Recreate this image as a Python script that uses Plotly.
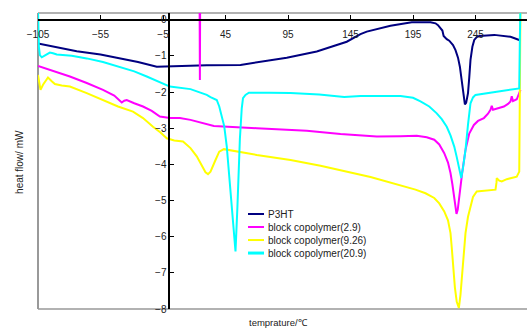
import plotly.graph_objects as go

# ---------------- data ----------------
p3ht_x = [-105, -90, -74, -55, -39.5, -25, -10, 0, 10, 30, 57, 78, 94, 118, 142, 153, 158, 177, 194, 209,
          213, 215, 217, 218.5, 219.5, 222, 224, 227, 229, 231, 232.5, 234, 235.5, 236.5, 237.5, 239, 240,
          241, 242.5, 244, 246, 248, 260, 273, 280]
p3ht_y = [-0.66, -0.76, -0.87, -0.96, -1.07, -1.17, -1.30, -1.29, -1.27, -1.26, -1.25, -1.14, -1.05, -0.88,
          -0.61, -0.40, -0.33, -0.17, -0.07, -0.07, -0.10, -0.15, -0.22, -0.30, -0.45, -0.54, -0.58, -0.70,
          -0.84, -1.05, -1.30, -1.70, -2.10, -2.34, -2.30, -2.03, -1.60, -1.11, -0.75, -0.56, -0.48, -0.45,
          -0.42, -0.47, -0.56]

bc29_x = [-105, -92, -79.5, -66, -53, -44, -38, -36, -34, -28, -21, -14, -7.5, 0.5, 8.5, 17, 35.7, 70, 110,
          137, 153, 166, 185, 198, 206, 212, 216, 220, 223, 225, 226.5, 227.7, 229, 229.8, 230.8, 231.7, 233,
          234.3, 237, 240, 243.7, 247, 251.7, 255, 257, 258, 259, 263, 267.7, 271, 273, 274, 275, 278, 281,
          None, 24.3, 24.5, 24.7]
bc29_y = [-1.28, -1.42, -1.57, -1.75, -1.94, -2.10, -2.29, -2.24, -2.22, -2.31, -2.40, -2.52, -2.68, -2.72,
          -2.72, -2.77, -2.94, -3.00, -3.07, -3.16, -3.21, -3.23, -3.22, -3.21, -3.25, -3.32, -3.45, -3.69,
          -3.95, -4.24, -4.55, -4.89, -5.20, -5.37, -5.25, -4.98, -4.60, -4.24, -3.60, -3.15, -2.91, -2.80,
          -2.72, -2.60, -2.49, -2.38, -2.49, -2.44, -2.40, -2.33, -2.26, -2.12, -2.25, -2.20, -1.94,
          None, 0.3, -1.67, 0.3]

bc926_x = [-105, -104, -103, -101, -97, -94, -91.5, -86, -79.5, -66, -53, -41, -29, -21, -13, -7, -2, 4, 11,
           17, 22, 26, 29, 31, 33, 37, 40, 43.7, 54, 70, 97, 121, 161, 185, 197, 205, 212, 216, 220, 223,
           225, 226, 227, 228.5, 230, 231.7, 233, 234.3, 235.5, 237, 239, 241, 243, 246, 261, 261.8, 262,
           264, 266, 270, 278, 280, 280.5, 281]
bc926_y = [-1.53, -1.75, -1.94, -1.80, -1.60, -1.70, -1.78, -1.82, -1.85, -2.03, -2.22, -2.40, -2.54, -2.72,
           -2.96, -3.12, -3.28, -3.34, -3.37, -3.55, -3.78, -4.05, -4.22, -4.27, -4.20, -3.88, -3.65, -3.58,
           -3.65, -3.74, -3.88, -4.04, -4.35, -4.57, -4.70, -4.80, -4.93, -5.08, -5.30, -5.55, -5.90, -6.30,
           -6.82, -7.40, -7.80, -7.97, -7.60, -7.00, -6.40, -5.90, -5.45, -5.17, -4.90, -4.75, -4.70, -4.50,
           -4.38, -4.45, -4.47, -4.41, -4.34, -4.20, -2.0, 0.5]

bc209_x = [-105, -104.8, -104.3, -103.5, -102, -99, -95.5, -93, -90, -78, -66, -53, -39.5, -28, -18, -8, 0.5,
           17, 30, 33, 38, 40, 42, 44, 46, 48, 50, 51.5, 53, 54.5, 55.5, 56.5, 58, 59, 61, 63.7, 80, 97, 120,
           140, 153, 170, 185, 195, 201, 208, 214, 218, 222, 225, 228, 230, 232, 233.6, 235, 237, 239, 241,
           243, 245, 262, 280, 280.5, 281]
bc209_y = [0.3, -0.3, -0.75, -0.98, -1.04, -0.98, -0.91, -0.93, -0.96, -1.00, -1.07, -1.17, -1.30, -1.43,
           -1.57, -1.72, -1.85, -1.92, -2.08, -2.14, -2.22, -2.40, -2.68, -2.95, -3.50, -4.30, -5.10, -5.75,
           -6.41, -5.20, -4.20, -3.30, -2.45, -2.17, -2.08, -2.02, -2.02, -2.03, -2.07, -2.14, -2.11, -2.10,
           -2.11, -2.16, -2.26, -2.40, -2.59, -2.75, -2.96, -3.20, -3.51, -3.80, -4.10, -4.38, -4.10, -3.60,
           -2.90, -2.31, -2.15, -2.08, -1.99, -1.90, -0.5, 0.5]

series_names = ["P3HT", "block copolymer(2.9)", "block copolymer(9.26)", "block copolymer(20.9)"]
series_x = [p3ht_x, bc29_x, bc926_x, bc209_x]
series_y = [p3ht_y, bc29_y, bc926_y, bc209_y]
series_colors = ["#000080", "#FF00FF", "#FFFF00", "#00FFFF"]

x_tick_vals = [-105, -55, -5, 45, 95, 145, 195, 245]
y_tick_vals = [0, -1, -2, -3, -4, -5, -6, -7, -8]

x_range = [-105, 286.2]
y_range = [-8, 0.185]

FONT = "Liberation Sans, Arial, sans-serif"

fig = go.Figure()
for name, xs, ys, col in zip(series_names, series_x, series_y, series_colors):
    fig.add_trace(go.Scatter(x=xs, y=ys, mode="lines", name=name,
                             line=dict(color=col, width=2), showlegend=False))

x_pos = (0 - y_range[0]) / (y_range[1] - y_range[0])
y_pos = (0 - x_range[0]) / (x_range[1] - x_range[0])

fig.update_layout(
    width=527, height=329,
    margin=dict(l=38, r=0, t=13, b=20),
    paper_bgcolor="white", plot_bgcolor="white",
    font=dict(family=FONT, size=10, color="#222"),
    xaxis=dict(range=x_range, tickvals=x_tick_vals, ticks="inside", ticklen=4,
               tickcolor="black", showline=True, linecolor="black", linewidth=1.5,
               showgrid=False, zeroline=False, anchor="free", position=x_pos,
               ticklabelstandoff=6, tickfont=dict(size=10, color="#222")),
    yaxis=dict(range=y_range, tickvals=y_tick_vals, ticks="inside", ticklen=4,
               tickcolor="black", showline=True, linecolor="black", linewidth=1.5,
               showgrid=False, zeroline=False, anchor="free", position=y_pos,
               tickfont=dict(size=10, color="#222")),
    showlegend=False,
)

# plot-area frame (left, top, bottom)
for x0, y0, x1, y1, w in [(0, 0, 0, 1, 2), (0, 1, 1, 1, 1.5), (0, 0, 1, 0, 1.5)]:
    fig.add_shape(type="line", xref="paper", yref="paper", x0=x0, y0=y0, x1=x1, y1=y1,
                  line=dict(color="#999999", width=w), layer="below")

# manual compact legend
leg_rows = [0.3209, 0.277, 0.233, 0.189]
for name, col, yy in zip(series_names, series_colors, leg_rows):
    fig.add_shape(type="line", xref="paper", yref="paper", x0=0.4294, x1=0.4622, y0=yy, y1=yy,
                  line=dict(color=col, width=3 if col == "#00FFFF" else 2))
    fig.add_annotation(x=0.4663, y=yy, xref="paper", yref="paper", text=name, showarrow=False,
                       xanchor="left", yanchor="middle", font=dict(size=10, color="#222"))

# axis titles
fig.add_annotation(x=-0.039, y=0.4966, xref="paper", yref="paper", text="heat flow/ mW",
                   textangle=-90, showarrow=False, font=dict(size=10, color="#222"),
                   xanchor="center", yanchor="middle")
fig.add_annotation(x=0.4928, y=-0.047, xref="paper", yref="paper", text="temprature/℃",
                   showarrow=False, font=dict(size=9.5, color="#222"),
                   xanchor="center", yanchor="middle")

fig.write_html("out.html")
